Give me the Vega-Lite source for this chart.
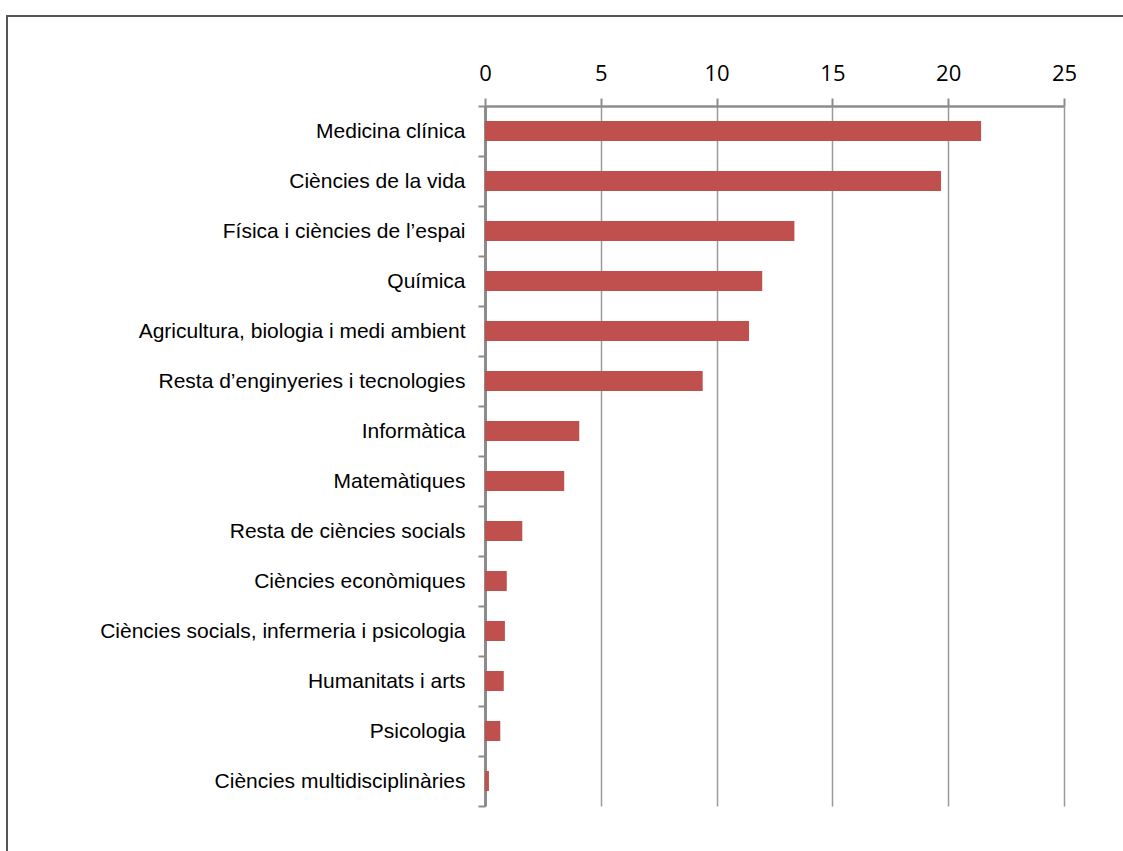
{
  "$schema": "https://vega.github.io/schema/vega-lite/v6.json",
  "width": 1130,
  "height": 850,
  "autosize": {"type": "none"},
  "padding": {"left": 7, "top": 16, "right": 0, "bottom": 0},
  "background": "white",
  "config": {"view": {"stroke": "#555555", "strokeWidth": 2}},
  "data": {
    "values": [
      {"area": "Medicina clínica", "valor": 21.42},
      {"area": "Ciències de la vida", "valor": 19.69},
      {"area": "Física i ciències de l’espai", "valor": 13.36},
      {"area": "Química", "valor": 11.97},
      {"area": "Agricultura, biologia i medi ambient", "valor": 11.40},
      {"area": "Resta d’enginyeries i tecnologies", "valor": 9.40},
      {"area": "Informàtica", "valor": 4.07},
      {"area": "Matemàtiques", "valor": 3.42},
      {"area": "Resta de ciències socials", "valor": 1.61},
      {"area": "Ciències econòmiques", "valor": 0.94},
      {"area": "Ciències socials, infermeria i psicologia", "valor": 0.86},
      {"area": "Humanitats i arts", "valor": 0.81},
      {"area": "Psicologia", "valor": 0.66},
      {"area": "Ciències multidisciplinàries", "valor": 0.17}
    ]
  },
  "mark": {"type": "bar", "color": "#C0504D", "height": {"band": 0.4}},
  "encoding": {
    "y": {
      "field": "area",
      "type": "nominal",
      "sort": null,
      "scale": {"range": [90, 790], "paddingInner": 0, "paddingOuter": 0},
      "axis": {
        "title": null,
        "offset": -478,
        "domainColor": "#8c8c8c",
        "domainWidth": 3,
        "tickColor": "#8c8c8c",
        "tickWidth": 2,
        "tickSize": 7,
        "tickBand": "extent",
        "labelFont": "Liberation Sans",
        "labelFontSize": 21,
        "labelColor": "#000000",
        "labelPadding": 13,
        "labelLimit": 0,
        "grid": false
      }
    },
    "x": {
      "field": "valor",
      "type": "quantitative",
      "scale": {"domain": [0, 25], "range": [478, 1057], "nice": false, "zero": true},
      "axis": {
        "title": null,
        "orient": "top",
        "offset": -90,
        "values": [0, 5, 10, 15, 20, 25],
        "grid": true,
        "gridColor": "#9a9a9a",
        "gridWidth": 1.5,
        "domainColor": "#8c8c8c",
        "domainWidth": 2.5,
        "tickColor": "#8c8c8c",
        "tickWidth": 2,
        "tickSize": 8,
        "labelFont": "Open Sans",
        "labelFontSize": 22,
        "labelColor": "#000000",
        "labelPadding": 18,
        "labelBaseline": "alphabetic",
        "labelFlush": false
      }
    }
  }
}
